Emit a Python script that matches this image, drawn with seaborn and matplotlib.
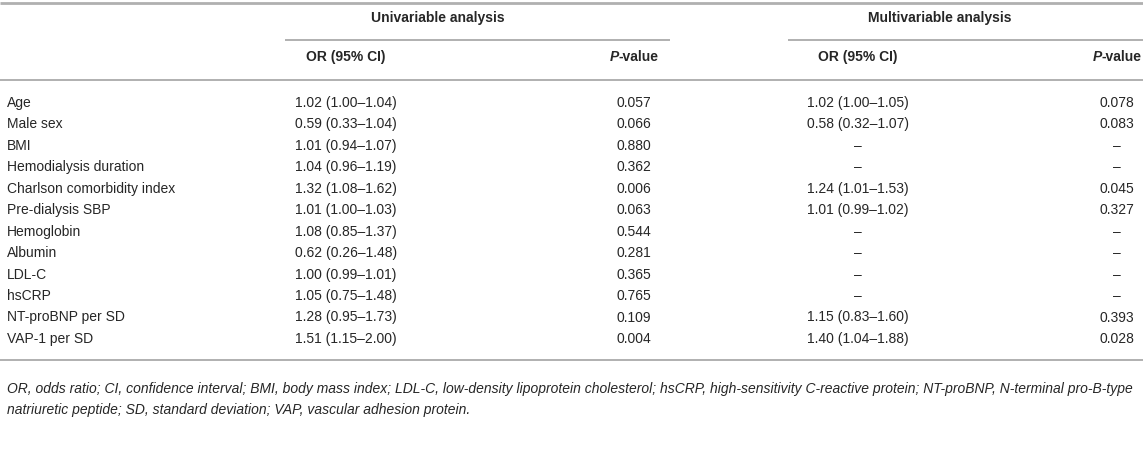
import matplotlib
matplotlib.use("Agg")
import matplotlib.pyplot as plt
import seaborn as sns

variables = ["Age", "Male sex", "BMI", "Hemodialysis duration",
             "Charlson comorbidity index", "Pre-dialysis SBP", "Hemoglobin",
             "Albumin", "LDL-C", "hsCRP", "NT-proBNP per SD", "VAP-1 per SD"]
uni_or = ["1.02 (1.00–1.04)", "0.59 (0.33–1.04)", "1.01 (0.94–1.07)",
          "1.04 (0.96–1.19)", "1.32 (1.08–1.62)", "1.01 (1.00–1.03)",
          "1.08 (0.85–1.37)", "0.62 (0.26–1.48)", "1.00 (0.99–1.01)",
          "1.05 (0.75–1.48)", "1.28 (0.95–1.73)", "1.51 (1.15–2.00)"]
uni_p = ["0.057", "0.066", "0.880", "0.362", "0.006", "0.063",
         "0.544", "0.281", "0.365", "0.765", "0.109", "0.004"]
multi_or = ["1.02 (1.00–1.05)", "0.58 (0.32–1.07)", "–", "–",
            "1.24 (1.01–1.53)", "1.01 (0.99–1.02)", "–", "–", "–", "–",
            "1.15 (0.83–1.60)", "1.40 (1.04–1.88)"]
multi_p = ["0.078", "0.083", "–", "–", "0.045", "0.327",
           "–", "–", "–", "–", "0.393", "0.028"]
group_headers = ["Univariable analysis", "Multivariable analysis"]
footnote = ["OR, odds ratio; CI, confidence interval; BMI, body mass index; LDL-C, low-density lipoprotein cholesterol; "
            "hsCRP, high-sensitivity C-reactive protein; NT-proBNP, N-terminal pro-B-type",
            "natriuretic peptide; SD, standard deviation; VAP, vascular adhesion protein."]

sns.set_theme(style="white")
plt.rcParams["font.family"] = ["Liberation Sans", "DejaVu Sans"]

W, H = 1143, 463
fig = plt.figure(figsize=(W / 100, H / 100), dpi=100)
ax = fig.add_axes([0, 0, 1, 1])
ax.set_xlim(0, W)
ax.set_ylim(H, 0)
ax.axis("off")

TXT = "#262626"
LINE = "#b0b0b0"
FS = 10

# layout
x_label = 7
col_x = [346, 634, 858, 1117]
grp_x = [438, 940]
y_grp, y_sub = 18, 57
y0, dy = 103, 21.45
line_kw = dict(color=LINE, solid_capstyle="butt")

ax.plot([0, W], [3, 3], lw=2.0, **line_kw)
ax.plot([285, 670], [39.5, 39.5], lw=1.4, **line_kw)
ax.plot([788, W], [39.5, 39.5], lw=1.4, **line_kw)
ax.plot([0, W], [80, 80], lw=1.4, **line_kw)
ax.plot([0, W], [360, 360], lw=1.4, **line_kw)

for gx, g in zip(grp_x, group_headers):
    ax.text(gx, y_grp, g, ha="center", va="center", fontsize=FS,
            fontweight="bold", color=TXT)

fig.canvas.draw()
renderer = fig.canvas.get_renderer()

def pvalue_header(xc, y):
    t1 = ax.text(0, y, "P", fontsize=FS, fontweight="bold", style="italic",
                 color=TXT, ha="left", va="center")
    t2 = ax.text(0, y, "-value", fontsize=FS, fontweight="bold",
                 color=TXT, ha="left", va="center")
    w1 = t1.get_window_extent(renderer).width
    w2 = t2.get_window_extent(renderer).width
    left = xc - (w1 + w2) / 2
    t1.set_x(left)
    t2.set_x(left + w1)

for i, xc in enumerate(col_x):
    if i % 2 == 0:
        ax.text(xc, y_sub, "OR (95% CI)", ha="center", va="center",
                fontsize=FS, fontweight="bold", color=TXT)
    else:
        pvalue_header(xc, y_sub)

columns = [uni_or, uni_p, multi_or, multi_p]
for r, name in enumerate(variables):
    y = y0 + r * dy
    ax.text(x_label, y, name, ha="left", va="center", fontsize=FS, color=TXT)
    for xc, col in zip(col_x, columns):
        ax.text(xc, y, col[r], ha="center", va="center", fontsize=FS, color=TXT)

for k, line in enumerate(footnote):
    ax.text(x_label, 389 + k * 21, line, ha="left", va="center",
            fontsize=10, style="italic", color=TXT)

fig.savefig("out.png", dpi=100)
